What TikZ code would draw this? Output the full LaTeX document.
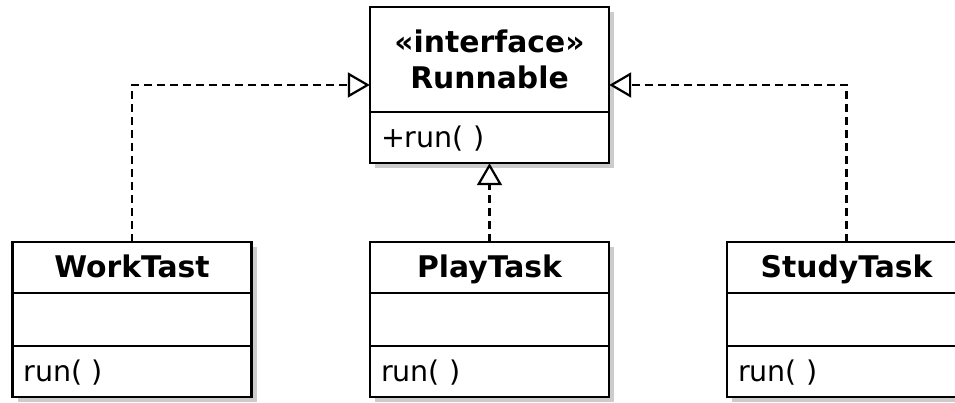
\documentclass[tikz,border=0pt]{standalone}
\usepackage{fontspec}
\setmainfont{DejaVu Sans}
\usetikzlibrary{positioning,fit,shadows,arrows.meta}
\definecolor{shade}{gray}{0.8}

\begin{document}
\fontsize{28.5}{36}\selectfont
\begin{tikzpicture}[x=1pt,y=1pt,
	part/.style={shape=rectangle,draw=black,line width=2.2pt,fill=white,minimum width=239pt,inner sep=0pt,outer sep=0pt,
		drop shadow={shadow xshift=5pt,shadow yshift=-5pt,fill=shade,opacity=1}},
	classhead/.style={part,font=\fontsize{29.8}{36}\selectfont\bfseries},
	classname/.style={classhead,minimum height=51pt,text height=21pt,text depth=0pt},
	iface/.style={classhead,minimum height=105pt,align=center},
	attrs/.style={part,minimum height=53pt},
	ops/.style={part,minimum height=51pt,text width=217pt,align=left,inner xsep=11pt,text height=21pt,text depth=0pt},
	realize/.style={line width=2.2pt,dash pattern=on 8pt off 5pt,-{Triangle[open,length=22pt,width=25pt]}}]
	
	\useasboundingbox (0,0) rectangle (955,403);
	
	\node[iface] (runhead) at (489.5,343.5) 	 {«interface»\\Runnable};
	\node[ops,below=0pt of runhead] (runops) 	 {+run( )};
	\node[fit=(runhead)(runops),inner sep=0pt] (run) {};
	
	\node[classname] (workhead) at (132,135.5) 	 {WorkTast};
	\node[attrs,below=0pt of workhead] (workattr) {};
	\node[ops,below=0pt of workattr] (workops) 	 {run( )};
	
	\node[classname] (playhead) at (489.5,135.5)  {PlayTask};
	\node[attrs,below=0pt of playhead] (playattr) {};
	\node[ops,below=0pt of playattr] (playops) 	 {run( )};
	
	\node[classname] (studyhead) at (846.5,135.5) {StudyTask};
	\node[attrs,below=0pt of studyhead] (studyattr) {};
	\node[ops,below=0pt of studyattr] (studyops) {run( )};
	
	\draw[realize] (workhead.north) |- (run.west);
	\draw[realize] (playhead.north) -- (run.south);
	\draw[realize] (studyhead.north) |- (run.east);
	
\end{tikzpicture}
\end{document}
